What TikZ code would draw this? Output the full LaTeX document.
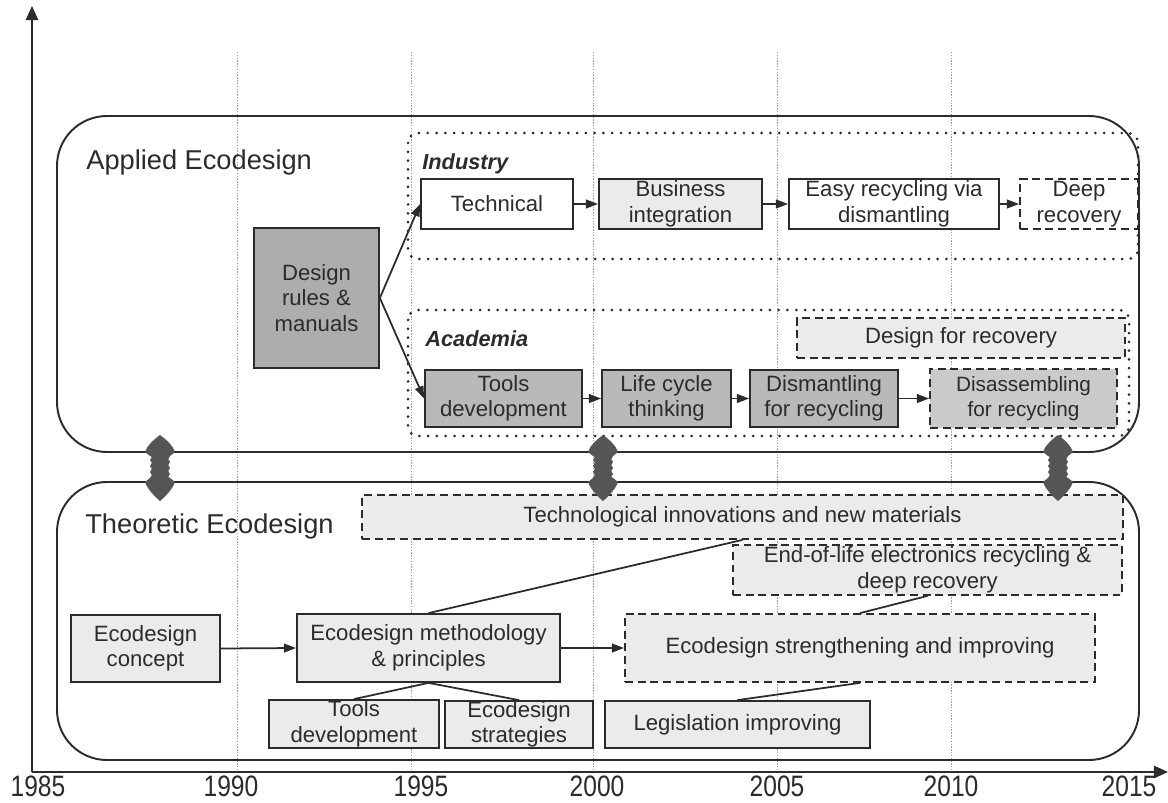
\documentclass[tikz,border=0pt]{standalone}
\usepackage{graphicx}
\usepackage{fontspec}
\setmainfont{Liberation Sans}
\usetikzlibrary{arrows.meta,calc}
\definecolor{lightfill}{HTML}{EBEBEB}
\definecolor{midfill}{HTML}{B9B9B9}
\definecolor{darkfill}{HTML}{ADADAD}
\definecolor{disfill}{HTML}{CACACA}
\definecolor{ink}{HTML}{2B2B2B}
\definecolor{arrowgray}{HTML}{555555}
\definecolor{gridgray}{HTML}{A0A0A0}
\newcommand\bx[7]{\node[#6,minimum width={(#4-#2)*0.02cm},minimum height={(#5-#3)*0.02cm}] (#1) at ({(#2+#4)/2},{(#3+#5)/2}) {#7};}
\begin{document}
\begin{tikzpicture}[x=0.02cm,y=-0.02cm,
  every node/.style={text=ink},
  box/.style={draw=ink,line width=1pt,inner sep=0pt,align=center,font=\fontsize{12.6}{14.5}\selectfont},
  dbox/.style={box,dash pattern=on 4.5pt off 2.7pt},
  smalltext/.style={font=\fontsize{11.8}{14}\selectfont},
  bigbox/.style={draw=ink,line width=1.1pt,rounded corners=1cm},
  group/.style={draw=ink,line width=1.7pt,dash pattern=on 0pt off 5pt,line cap=round,rounded corners=0.2cm},
  title/.style={font=\fontsize{15.5}{18}\selectfont,anchor=base west,inner sep=0pt},
  grplabel/.style={font=\fontsize{12.4}{14}\selectfont\bfseries\itshape,anchor=base west,inner sep=0pt},
  arr/.style={draw=ink,line width=1pt,-{Triangle[length=7pt,width=5pt]}},
  conn/.style={draw=ink,line width=1pt},
  axis/.style={draw=ink,line width=1.1pt,-{Triangle[length=8pt,width=7pt]}},
  grid/.style={draw=gridgray,line width=0.5pt,dash pattern=on 0.8pt off 0.8pt},
  year/.style={font=\fontsize{14}{14}\selectfont,inner sep=0pt},
  dblarrow/.pic={
    \fill[arrowgray] (0,435) .. controls (7,440) and (13,446) .. (15,452) -- (10,456)
      \foreach \k in {1,...,7} { -- ({10-1.8*mod(\k,2)},{456+3*\k}) }
      -- (10,478) -- (15,482) .. controls (13,488) and (7,495) .. (0,501)
      .. controls (-7,495) and (-13,488) .. (-15,482) -- (-10,478)
      \foreach \k in {1,...,7} { -- ({-10+1.8*mod(\k,2)},{478-3*\k}) }
      -- (-10,456) -- (-15,452) .. controls (-13,446) and (-7,440) .. (0,435) -- cycle;
  }
]
\useasboundingbox (0,0) rectangle (1168,803);

% grid lines
\foreach \gx in {237,411,593,777,951} \draw[grid] (\gx,52) -- (\gx,772);

% axes
\coordinate (origin) at (32,772);
\coordinate (ytip) at (32,6);
\coordinate (xtip) at (1168,772);
\draw[axis] (origin) -- (ytip);
\draw[axis] (origin) -- (xtip);

% year labels
\node[year] (y1985) at (38,786) {\scalebox{1}[1.2]{1985}};
\node[year] (y1990) at (231,786) {\scalebox{1}[1.2]{1990}};
\node[year] (y1995) at (421,786) {\scalebox{1}[1.2]{1995}};
\node[year] (y2000) at (597,786) {\scalebox{1}[1.2]{2000}};
\node[year] (y2005) at (777,786) {\scalebox{1}[1.2]{2005}};
\node[year] (y2010) at (951,786) {\scalebox{1}[1.2]{2010}};
\node[year] (y2015) at (1129,786) {\scalebox{1}[1.2]{2015}};

% big section boxes
\draw[bigbox] (57,116) rectangle (1139,452);
\draw[bigbox] (57,482) rectangle (1139,760);

% group frames
\draw[group] (408,133) rectangle (1138,259);
\draw[group] (408,310) rectangle (1129,436);

% titles
\node[title] (applied) at (86,170) {Applied Ecodesign};
\node[title] (theo) at (85,533) {Theoretic Ecodesign};
\node[grplabel] (ind) at (422,170) {Industry};
\node[grplabel] (acad) at (425,347) {Academia};

% Industry row
\bx{tech}{421}{179}{573}{229}{box,fill=white}{Technical}
\bx{busi}{599}{179}{762}{229}{box,fill=lightfill}{Business\\integration}
\bx{easy}{789}{179}{999}{229}{box,fill=white}{Easy recycling via\\dismantling}
\bx{deep}{1020}{179}{1138}{229}{dbox,fill=white}{Deep\\recovery}

% design rules
\bx{rules}{254}{228}{379}{368}{box,fill=darkfill}{Design\\rules \&\\manuals}

% Academia row
\bx{dfr}{797}{318}{1125}{358}{dbox,fill=lightfill}{Design for recovery}
\bx{toolsa}{425}{370}{582}{427}{box,fill=midfill}{Tools\\development}
\bx{life}{602}{370}{731}{427}{box,fill=midfill}{Life cycle\\thinking}
\bx{dism}{750}{370}{898}{427}{box,fill=midfill}{Dismantling\\for recycling}
\bx{disa}{930}{369}{1117}{428}{dbox,fill=disfill,smalltext}{Disassembling\\for recycling}

% Theoretic
\bx{techinn}{362}{495}{1123}{539}{dbox,fill=lightfill}{Technological innovations and new materials}
\bx{eol}{733}{545}{1122}{595}{dbox,fill=lightfill}{End-of-life electronics recycling \&\\deep recovery}
\bx{concept}{71}{615}{220}{682}{box,fill=lightfill}{Ecodesign\\concept}
\bx{meth}{297}{614}{560}{682}{box,fill=lightfill}{Ecodesign methodology\\\& principles}
\bx{streng}{625}{614}{1095}{682}{dbox,fill=lightfill}{Ecodesign strengthening and improving}
\bx{toolsb}{269}{700}{439}{748}{box,fill=lightfill}{Tools\\development}
\bx{strat}{445}{701}{593}{748}{box,fill=lightfill}{Ecodesign\\strategies}
\bx{legis}{605}{701}{870}{748}{box,fill=lightfill}{Legislation improving}

% connectors - applied
\draw[arr] (tech.east) -- (busi.west);
\draw[arr] (busi.east) -- (easy.west);
\draw[arr] (easy.east) -- (deep.west);
\draw[arr] (rules.east) -- (tech.west);
\draw[arr] (rules.east) -- (toolsa.west);
\draw[arr] (toolsa.east) -- (life.west);
\draw[arr] (life.east) -- (dism.west);
\draw[arr] (dism.east) -- (disa.west);

% connectors - theoretic
\draw[arr] (concept.east) -- (meth.west);
\draw[arr] (meth.east) -- (streng.west);
\draw[conn] (meth.north) -- (techinn.south);
\draw[conn] (meth.south) -- (toolsb.north);
\draw[conn] (meth.south) -- (strat.north);
\draw[conn] (legis.north) -- (streng.south);
\draw[conn] (streng.north) -- (eol.south);

% double arrows
\pic at (160,0) {dblarrow};
\pic at (603,0) {dblarrow};
\pic at (1058,0) {dblarrow};
\end{tikzpicture}
\end{document}
